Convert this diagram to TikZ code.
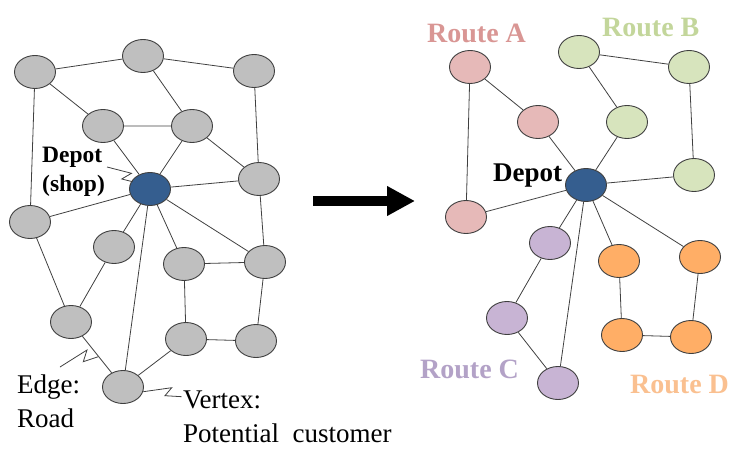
\documentclass[tikz,border=0pt]{standalone}
\usepackage{fontspec}
\setmainfont{Liberation Serif}
\usetikzlibrary{shapes.geometric,arrows.meta}
\definecolor{outl}{HTML}{3F3F3F}
\definecolor{edgec}{HTML}{404040}
\definecolor{grayf}{HTML}{BFBFBF}
\definecolor{depotf}{HTML}{355E8F}
\definecolor{pinkf}{HTML}{E6B9B8}
\definecolor{greenf}{HTML}{D7E4BD}
\definecolor{purplef}{HTML}{C8B4D4}
\definecolor{orangef}{HTML}{FFAE66}
\definecolor{pinkt}{HTML}{D99694}
\definecolor{greent}{HTML}{C3D69B}
\definecolor{purplet}{HTML}{B3A2C7}
\definecolor{oranget}{HTML}{FAC090}
\begin{document}
\begin{tikzpicture}[x=1pt,y=-1pt,
  vtx/.style={ellipse,draw=outl,line width=0.9pt,minimum width=41pt,minimum height=33pt,inner sep=0pt,fill=grayf},
  dep/.style={vtx,fill=depotf},
  pa/.style={vtx,fill=pinkf},
  pb/.style={vtx,fill=greenf},
  pc/.style={vtx,fill=purplef},
  pd/.style={vtx,fill=orangef},
  road/.style={draw=edgec,line width=0.8pt},
  callout/.style={draw=edgec,line width=0.8pt,line join=miter},
  lbl/.style={inner sep=0pt,anchor=base west,align=left},
  boldlbl/.style={lbl,font=\fontsize{23.5}{29}\selectfont\bfseries},
  normlbl/.style={lbl,font=\fontsize{27}{34}\selectfont},
  routelbl/.style={lbl,font=\fontsize{28}{34}\selectfont\bfseries}]
\useasboundingbox (0,0) rectangle (750,468);
% ---------- left graph ----------
\node[vtx] (n1) at (35,72) {};
\node[vtx] (n2) at (143,56) {};
\node[vtx] (n3) at (254,71) {};
\node[vtx] (n4) at (103,126) {};
\node[vtx] (n5) at (192,126) {};
\node[vtx] (n6) at (259,179) {};
\node[vtx] (n7) at (30,222) {};
\node[vtx] (n8) at (114,247) {};
\node[vtx] (n9) at (184,264) {};
\node[vtx] (n10) at (265,262) {};
\node[vtx] (n11) at (71,322) {};
\node[vtx] (n12) at (186,339) {};
\node[vtx] (n13) at (256,341) {};
\node[vtx] (n14) at (123,387) {};
\node[dep] (dL) at (150,189) {};
\path[road] (n1) -- (n2) (n2) -- (n3) (n1) -- (n4) (n1) -- (n7)
  (n2) -- (n5) (n3) -- (n6) (n4) -- (n5) (n4) -- (dL) (n5) -- (dL)
  (n5) -- (n6) (n6) -- (dL) (dL) -- (n7) (n6) -- (n10) (dL) -- (n8)
  (dL) -- (n14) (dL) -- (n9) (dL) -- (n10) (n7) -- (n11) (n8) -- (n11)
  (n9) -- (n10) (n9) -- (n12) (n10) -- (n13) (n12) -- (n13)
  (n11) -- (n14) (n14) -- (n12);
% labels left (anchor = baseline of the last line)
\node[boldlbl] (tdep) at (42,192) {Depot\\(shop)};
\node[normlbl] (tedge) at (17,427) {Edge:\\Road};
\node[normlbl] (tvert) at (183,442) {Vertex:\\Potential\ \ customer};
\coordinate (c1a) at (107,167);
\coordinate (c1b) at (131.5,173.3);
\coordinate (c1c) at (121.7,179);
\coordinate (c1d) at (132.5,181.7);
\path[callout] (c1a) -- (c1b) -- (c1c) -- (c1d);
\coordinate (c2a) at (60,367);
\coordinate (c2b) at (87,350);
\coordinate (c2c) at (83.3,361.7);
\coordinate (c2d) at (98.3,356.7);
\path[callout] (c2a) -- (c2b) -- (c2c) -- (c2d);
\coordinate (c3a) at (143.3,391.7);
\coordinate (c3b) at (171.7,387.7);
\coordinate (c3c) at (165,395.7);
\coordinate (c3d) at (181.7,396.7);
\path[callout] (c3a) -- (c3b) -- (c3c) -- (c3d);
% ---------- arrow ----------
\coordinate (arrS) at (313,201);
\coordinate (arrE) at (415,201);
\draw[line width=10pt,-{Triangle[length=28pt,width=28pt]}] (arrS) -- (arrE);
% ---------- right graph ----------
\node[dep] (dR) at (586,185) {};
\node[pa] (a1) at (470,67) {};
\node[pa] (a2) at (538,122) {};
\node[pa] (a3) at (466,217) {};
\node[pb] (b1) at (579,52) {};
\node[pb] (b2) at (689,67) {};
\node[pb] (b3) at (627,122) {};
\node[pb] (b4) at (694,175) {};
\node[pc] (c1) at (550,243) {};
\node[pc] (c2) at (507,318) {};
\node[pc] (c3) at (558,383) {};
\node[pd] (d1) at (619,261) {};
\node[pd] (d2) at (700,257) {};
\node[pd] (d3) at (622,335) {};
\node[pd] (d4) at (691,337) {};
\path[road] (a1) -- (a2) (a1) -- (a3) (a2) -- (dR) (a3) -- (dR)
  (b1) -- (b2) (b1) -- (b3) (b2) -- (b4) (b3) -- (dR) (b4) -- (dR)
  (dR) -- (c1) (c1) -- (c2) (c2) -- (c3) (c3) -- (dR)
  (dR) -- (d1) (d1) -- (d3) (d3) -- (d4) (d4) -- (d2) (d2) -- (dR);
\node[lbl,font=\fontsize{27}{32}\selectfont\bfseries] (tdepR) at (493,182) {Depot};
\node[routelbl,text=pinkt] (rA) at (427,43) {Route A};
\node[routelbl,text=greent] (rB) at (602,37) {Route B};
\node[routelbl,text=purplet] (rC) at (420,378) {Route C};
\node[routelbl,text=oranget] (rD) at (630,393) {Route D};
\end{tikzpicture}
\end{document}
